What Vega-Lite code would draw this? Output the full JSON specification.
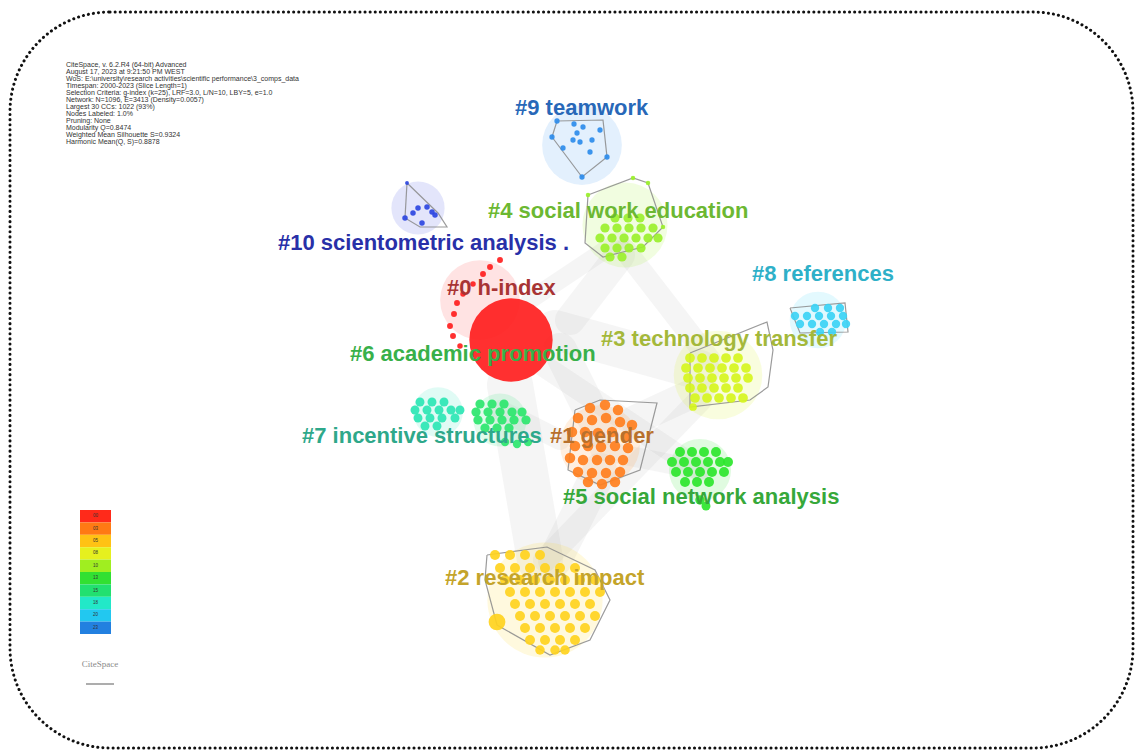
{
  "$schema": "https://vega.github.io/schema/vega-lite/v6.json",
  "width": 1136,
  "height": 751,
  "padding": 0,
  "autosize": {"type": "fit", "contains": "padding"},
  "background": "white",
  "config": {"view": {"stroke": null}},
  "datasets": {
    "frame": [{"x": 10, "x2": 1133, "y": 12, "y2": 748}],
    "links": [
      {"x": 510, "y": 385, "x2": 540, "y2": 560, "w": 46},
      {"x": 600, "y": 470, "x2": 555, "y2": 560, "w": 34},
      {"x": 555, "y": 330, "x2": 700, "y2": 370, "w": 40},
      {"x": 620, "y": 255, "x2": 570, "y2": 320, "w": 30},
      {"x": 635, "y": 420, "x2": 700, "y2": 390, "w": 30},
      {"x": 560, "y": 350, "x2": 600, "y2": 430, "w": 34},
      {"x": 545, "y": 560, "x2": 700, "y2": 400, "w": 24},
      {"x": 520, "y": 350, "x2": 700, "y2": 470, "w": 22},
      {"x": 625, "y": 250, "x2": 710, "y2": 360, "w": 22},
      {"x": 500, "y": 410, "x2": 560, "y2": 440, "w": 20},
      {"x": 530, "y": 300, "x2": 620, "y2": 240, "w": 18},
      {"x": 600, "y": 450, "x2": 700, "y2": 470, "w": 20}
    ],
    "halos": [
      {"c": "9", "x": 582, "y": 145, "w": 6360},
      {"c": "10", "x": 418, "y": 208, "w": 2830},
      {"c": "4", "x": 625, "y": 225, "w": 7240},
      {"c": "8", "x": 818, "y": 320, "w": 3200},
      {"c": "0", "x": 480, "y": 300, "w": 6360},
      {"c": "3", "x": 718, "y": 375, "w": 7850},
      {"c": "7", "x": 438, "y": 412, "w": 2460},
      {"c": "6", "x": 500, "y": 420, "w": 2830},
      {"c": "1", "x": 600, "y": 445, "w": 6360},
      {"c": "5", "x": 700, "y": 470, "w": 3850},
      {"c": "2", "x": 545, "y": 600, "w": 13270}
    ],
    "hulls": [
      {"c": "9", "o": 0, "x": 552, "y": 137}, {"c": "9", "o": 1, "x": 557, "y": 121}, {"c": "9", "o": 2, "x": 603, "y": 120}, {"c": "9", "o": 3, "x": 607, "y": 157}, {"c": "9", "o": 4, "x": 582, "y": 177}, {"c": "9", "o": 5, "x": 552, "y": 137},
      {"c": "10", "o": 0, "x": 407, "y": 183}, {"c": "10", "o": 1, "x": 405, "y": 218}, {"c": "10", "o": 2, "x": 420, "y": 227}, {"c": "10", "o": 3, "x": 447, "y": 227}, {"c": "10", "o": 4, "x": 438, "y": 213}, {"c": "10", "o": 5, "x": 407, "y": 183},
      {"c": "4", "o": 0, "x": 588, "y": 195}, {"c": "4", "o": 1, "x": 633, "y": 178}, {"c": "4", "o": 2, "x": 648, "y": 183}, {"c": "4", "o": 3, "x": 663, "y": 227}, {"c": "4", "o": 4, "x": 643, "y": 247}, {"c": "4", "o": 5, "x": 603, "y": 257}, {"c": "4", "o": 6, "x": 585, "y": 243}, {"c": "4", "o": 7, "x": 588, "y": 195},
      {"c": "3", "o": 0, "x": 690, "y": 353}, {"c": "3", "o": 1, "x": 767, "y": 322}, {"c": "3", "o": 2, "x": 773, "y": 350}, {"c": "3", "o": 3, "x": 768, "y": 387}, {"c": "3", "o": 4, "x": 750, "y": 400}, {"c": "3", "o": 5, "x": 690, "y": 407}, {"c": "3", "o": 6, "x": 690, "y": 353},
      {"c": "1", "o": 0, "x": 575, "y": 410}, {"c": "1", "o": 1, "x": 600, "y": 400}, {"c": "1", "o": 2, "x": 657, "y": 403}, {"c": "1", "o": 3, "x": 640, "y": 470}, {"c": "1", "o": 4, "x": 600, "y": 485}, {"c": "1", "o": 5, "x": 568, "y": 470}, {"c": "1", "o": 6, "x": 575, "y": 410},
      {"c": "2", "o": 0, "x": 487, "y": 555}, {"c": "2", "o": 1, "x": 547, "y": 547}, {"c": "2", "o": 2, "x": 595, "y": 570}, {"c": "2", "o": 3, "x": 610, "y": 600}, {"c": "2", "o": 4, "x": 590, "y": 640}, {"c": "2", "o": 5, "x": 550, "y": 655}, {"c": "2", "o": 6, "x": 497, "y": 625}, {"c": "2", "o": 7, "x": 485, "y": 580}, {"c": "2", "o": 8, "x": 487, "y": 555},
      {"c": "8", "o": 0, "x": 790, "y": 308}, {"c": "8", "o": 1, "x": 845, "y": 303}, {"c": "8", "o": 2, "x": 848, "y": 332}, {"c": "8", "o": 3, "x": 800, "y": 333}, {"c": "8", "o": 4, "x": 790, "y": 308}
    ],
    "nodes": [
      {"c": "0", "x": 511, "y": 340, "w": 6940},
      {"c": "0", "x": 500, "y": 260, "w": 35}, {"c": "0", "x": 490, "y": 267, "w": 35}, {"c": "0", "x": 483, "y": 274, "w": 35}, {"c": "0", "x": 473, "y": 284, "w": 30}, {"c": "0", "x": 463, "y": 294, "w": 30}, {"c": "0", "x": 457, "y": 303, "w": 35}, {"c": "0", "x": 454, "y": 314, "w": 35}, {"c": "0", "x": 450, "y": 326, "w": 35}, {"c": "0", "x": 453, "y": 336, "w": 35}, {"c": "0", "x": 460, "y": 346, "w": 30},
      {"c": "1", "x": 590, "y": 408, "w": 110}, {"c": "1", "x": 605, "y": 405, "w": 110}, {"c": "1", "x": 618, "y": 410, "w": 110}, {"c": "1", "x": 578, "y": 418, "w": 110}, {"c": "1", "x": 592, "y": 420, "w": 110}, {"c": "1", "x": 606, "y": 418, "w": 110}, {"c": "1", "x": 620, "y": 422, "w": 110}, {"c": "1", "x": 632, "y": 425, "w": 110}, {"c": "1", "x": 572, "y": 432, "w": 110}, {"c": "1", "x": 585, "y": 432, "w": 110}, {"c": "1", "x": 598, "y": 433, "w": 110}, {"c": "1", "x": 612, "y": 432, "w": 110}, {"c": "1", "x": 626, "y": 436, "w": 110}, {"c": "1", "x": 575, "y": 446, "w": 110}, {"c": "1", "x": 588, "y": 446, "w": 110}, {"c": "1", "x": 601, "y": 447, "w": 110}, {"c": "1", "x": 615, "y": 446, "w": 110}, {"c": "1", "x": 628, "y": 448, "w": 110}, {"c": "1", "x": 570, "y": 458, "w": 110}, {"c": "1", "x": 583, "y": 460, "w": 110}, {"c": "1", "x": 597, "y": 460, "w": 110}, {"c": "1", "x": 610, "y": 460, "w": 110}, {"c": "1", "x": 623, "y": 460, "w": 110}, {"c": "1", "x": 578, "y": 472, "w": 110}, {"c": "1", "x": 592, "y": 473, "w": 110}, {"c": "1", "x": 606, "y": 473, "w": 110}, {"c": "1", "x": 620, "y": 472, "w": 110}, {"c": "1", "x": 588, "y": 482, "w": 110}, {"c": "1", "x": 602, "y": 484, "w": 110}, {"c": "1", "x": 615, "y": 482, "w": 110},
      {"c": "2", "x": 495, "y": 555, "w": 100}, {"c": "2", "x": 510, "y": 555, "w": 100}, {"c": "2", "x": 525, "y": 555, "w": 100}, {"c": "2", "x": 540, "y": 555, "w": 100},
      {"c": "2", "x": 500, "y": 568, "w": 100}, {"c": "2", "x": 515, "y": 568, "w": 100}, {"c": "2", "x": 530, "y": 568, "w": 100}, {"c": "2", "x": 545, "y": 568, "w": 100}, {"c": "2", "x": 560, "y": 568, "w": 100}, {"c": "2", "x": 575, "y": 568, "w": 100},
      {"c": "2", "x": 505, "y": 580, "w": 100}, {"c": "2", "x": 520, "y": 580, "w": 100}, {"c": "2", "x": 535, "y": 580, "w": 100}, {"c": "2", "x": 550, "y": 580, "w": 100}, {"c": "2", "x": 565, "y": 580, "w": 100}, {"c": "2", "x": 580, "y": 580, "w": 100}, {"c": "2", "x": 595, "y": 580, "w": 100},
      {"c": "2", "x": 510, "y": 592, "w": 100}, {"c": "2", "x": 525, "y": 592, "w": 100}, {"c": "2", "x": 540, "y": 592, "w": 100}, {"c": "2", "x": 555, "y": 592, "w": 100}, {"c": "2", "x": 570, "y": 592, "w": 100}, {"c": "2", "x": 585, "y": 592, "w": 100}, {"c": "2", "x": 600, "y": 592, "w": 100},
      {"c": "2", "x": 515, "y": 604, "w": 100}, {"c": "2", "x": 530, "y": 604, "w": 100}, {"c": "2", "x": 545, "y": 604, "w": 100}, {"c": "2", "x": 560, "y": 604, "w": 100}, {"c": "2", "x": 575, "y": 604, "w": 100}, {"c": "2", "x": 590, "y": 604, "w": 100},
      {"c": "2", "x": 520, "y": 616, "w": 100}, {"c": "2", "x": 535, "y": 616, "w": 100}, {"c": "2", "x": 550, "y": 616, "w": 100}, {"c": "2", "x": 565, "y": 616, "w": 100}, {"c": "2", "x": 580, "y": 616, "w": 100}, {"c": "2", "x": 595, "y": 616, "w": 100},
      {"c": "2", "x": 525, "y": 628, "w": 100}, {"c": "2", "x": 540, "y": 628, "w": 100}, {"c": "2", "x": 555, "y": 628, "w": 100}, {"c": "2", "x": 570, "y": 628, "w": 100}, {"c": "2", "x": 585, "y": 628, "w": 100},
      {"c": "2", "x": 530, "y": 640, "w": 100}, {"c": "2", "x": 545, "y": 640, "w": 100}, {"c": "2", "x": 560, "y": 640, "w": 100}, {"c": "2", "x": 575, "y": 640, "w": 100},
      {"c": "2", "x": 540, "y": 650, "w": 90}, {"c": "2", "x": 555, "y": 650, "w": 90}, {"c": "2", "x": 565, "y": 650, "w": 90}, {"c": "2", "x": 497, "y": 622, "w": 280},
      {"c": "3", "x": 690, "y": 358, "w": 95}, {"c": "3", "x": 702, "y": 358, "w": 95}, {"c": "3", "x": 714, "y": 358, "w": 95}, {"c": "3", "x": 726, "y": 358, "w": 95}, {"c": "3", "x": 738, "y": 358, "w": 95},
      {"c": "3", "x": 686, "y": 368, "w": 95}, {"c": "3", "x": 698, "y": 368, "w": 95}, {"c": "3", "x": 710, "y": 368, "w": 95}, {"c": "3", "x": 722, "y": 368, "w": 95}, {"c": "3", "x": 734, "y": 368, "w": 95}, {"c": "3", "x": 746, "y": 368, "w": 95},
      {"c": "3", "x": 688, "y": 378, "w": 95}, {"c": "3", "x": 700, "y": 378, "w": 95}, {"c": "3", "x": 712, "y": 378, "w": 95}, {"c": "3", "x": 724, "y": 378, "w": 95}, {"c": "3", "x": 736, "y": 378, "w": 95}, {"c": "3", "x": 748, "y": 378, "w": 95},
      {"c": "3", "x": 690, "y": 388, "w": 95}, {"c": "3", "x": 702, "y": 388, "w": 95}, {"c": "3", "x": 714, "y": 388, "w": 95}, {"c": "3", "x": 726, "y": 388, "w": 95}, {"c": "3", "x": 738, "y": 388, "w": 95},
      {"c": "3", "x": 695, "y": 398, "w": 95}, {"c": "3", "x": 707, "y": 398, "w": 95}, {"c": "3", "x": 719, "y": 398, "w": 95}, {"c": "3", "x": 731, "y": 398, "w": 95}, {"c": "3", "x": 743, "y": 398, "w": 95}, {"c": "3", "x": 693, "y": 407, "w": 60},
      {"c": "4", "x": 615, "y": 218, "w": 85}, {"c": "4", "x": 628, "y": 218, "w": 85}, {"c": "4", "x": 640, "y": 218, "w": 85},
      {"c": "4", "x": 605, "y": 228, "w": 85}, {"c": "4", "x": 617, "y": 228, "w": 85}, {"c": "4", "x": 629, "y": 228, "w": 85}, {"c": "4", "x": 641, "y": 228, "w": 85}, {"c": "4", "x": 653, "y": 228, "w": 85},
      {"c": "4", "x": 600, "y": 238, "w": 85}, {"c": "4", "x": 612, "y": 238, "w": 85}, {"c": "4", "x": 624, "y": 238, "w": 85}, {"c": "4", "x": 636, "y": 238, "w": 85}, {"c": "4", "x": 648, "y": 238, "w": 85}, {"c": "4", "x": 658, "y": 238, "w": 85},
      {"c": "4", "x": 605, "y": 248, "w": 85}, {"c": "4", "x": 617, "y": 248, "w": 85}, {"c": "4", "x": 629, "y": 248, "w": 85}, {"c": "4", "x": 641, "y": 248, "w": 85},
      {"c": "4", "x": 610, "y": 257, "w": 85}, {"c": "4", "x": 622, "y": 257, "w": 85},
      {"c": "4", "x": 588, "y": 195, "w": 20}, {"c": "4", "x": 633, "y": 178, "w": 20}, {"c": "4", "x": 648, "y": 183, "w": 20}, {"c": "4", "x": 663, "y": 227, "w": 20},
      {"c": "5", "x": 680, "y": 452, "w": 100}, {"c": "5", "x": 692, "y": 452, "w": 100}, {"c": "5", "x": 704, "y": 452, "w": 100}, {"c": "5", "x": 716, "y": 452, "w": 100},
      {"c": "5", "x": 672, "y": 462, "w": 100}, {"c": "5", "x": 684, "y": 462, "w": 100}, {"c": "5", "x": 696, "y": 462, "w": 100}, {"c": "5", "x": 708, "y": 462, "w": 100}, {"c": "5", "x": 720, "y": 462, "w": 100}, {"c": "5", "x": 728, "y": 462, "w": 100},
      {"c": "5", "x": 676, "y": 472, "w": 100}, {"c": "5", "x": 688, "y": 472, "w": 100}, {"c": "5", "x": 700, "y": 472, "w": 100}, {"c": "5", "x": 712, "y": 472, "w": 100}, {"c": "5", "x": 724, "y": 472, "w": 100},
      {"c": "5", "x": 685, "y": 482, "w": 100}, {"c": "5", "x": 697, "y": 482, "w": 100}, {"c": "5", "x": 709, "y": 482, "w": 100}, {"c": "5", "x": 700, "y": 500, "w": 90}, {"c": "5", "x": 706, "y": 506, "w": 80},
      {"c": "6", "x": 480, "y": 404, "w": 85}, {"c": "6", "x": 492, "y": 404, "w": 85}, {"c": "6", "x": 504, "y": 404, "w": 85},
      {"c": "6", "x": 476, "y": 412, "w": 85}, {"c": "6", "x": 488, "y": 412, "w": 85}, {"c": "6", "x": 500, "y": 412, "w": 85}, {"c": "6", "x": 512, "y": 412, "w": 85}, {"c": "6", "x": 522, "y": 412, "w": 85},
      {"c": "6", "x": 478, "y": 420, "w": 85}, {"c": "6", "x": 490, "y": 420, "w": 85}, {"c": "6", "x": 502, "y": 420, "w": 85}, {"c": "6", "x": 514, "y": 420, "w": 85}, {"c": "6", "x": 526, "y": 420, "w": 85},
      {"c": "6", "x": 485, "y": 428, "w": 85}, {"c": "6", "x": 497, "y": 428, "w": 85}, {"c": "6", "x": 509, "y": 428, "w": 85},
      {"c": "6", "x": 505, "y": 442, "w": 70}, {"c": "6", "x": 517, "y": 444, "w": 70}, {"c": "6", "x": 528, "y": 442, "w": 70},
      {"c": "7", "x": 420, "y": 402, "w": 80}, {"c": "7", "x": 432, "y": 402, "w": 80}, {"c": "7", "x": 444, "y": 402, "w": 80},
      {"c": "7", "x": 415, "y": 410, "w": 80}, {"c": "7", "x": 427, "y": 410, "w": 80}, {"c": "7", "x": 439, "y": 410, "w": 80}, {"c": "7", "x": 451, "y": 410, "w": 80}, {"c": "7", "x": 460, "y": 410, "w": 80},
      {"c": "7", "x": 418, "y": 418, "w": 80}, {"c": "7", "x": 430, "y": 418, "w": 80}, {"c": "7", "x": 442, "y": 418, "w": 80}, {"c": "7", "x": 455, "y": 418, "w": 80},
      {"c": "7", "x": 425, "y": 426, "w": 80}, {"c": "7", "x": 437, "y": 426, "w": 80},
      {"c": "8", "x": 815, "y": 308, "w": 70}, {"c": "8", "x": 828, "y": 308, "w": 70}, {"c": "8", "x": 840, "y": 308, "w": 70},
      {"c": "8", "x": 795, "y": 316, "w": 70}, {"c": "8", "x": 807, "y": 316, "w": 70}, {"c": "8", "x": 819, "y": 316, "w": 70}, {"c": "8", "x": 831, "y": 316, "w": 70}, {"c": "8", "x": 843, "y": 316, "w": 70},
      {"c": "8", "x": 800, "y": 324, "w": 70}, {"c": "8", "x": 812, "y": 324, "w": 70}, {"c": "8", "x": 824, "y": 324, "w": 70}, {"c": "8", "x": 836, "y": 324, "w": 70}, {"c": "8", "x": 846, "y": 324, "w": 70},
      {"c": "8", "x": 820, "y": 332, "w": 70}, {"c": "8", "x": 832, "y": 332, "w": 70},
      {"c": "9", "x": 557, "y": 121, "w": 28}, {"c": "9", "x": 552, "y": 137, "w": 28}, {"c": "9", "x": 574, "y": 124, "w": 28}, {"c": "9", "x": 577, "y": 133, "w": 28}, {"c": "9", "x": 583, "y": 127, "w": 28}, {"c": "9", "x": 573, "y": 140, "w": 28}, {"c": "9", "x": 580, "y": 142, "w": 28}, {"c": "9", "x": 592, "y": 140, "w": 28}, {"c": "9", "x": 600, "y": 130, "w": 28}, {"c": "9", "x": 607, "y": 157, "w": 28}, {"c": "9", "x": 582, "y": 177, "w": 28}, {"c": "9", "x": 563, "y": 148, "w": 28}, {"c": "9", "x": 590, "y": 152, "w": 28},
      {"c": "10", "x": 405, "y": 218, "w": 30}, {"c": "10", "x": 418, "y": 208, "w": 30}, {"c": "10", "x": 427, "y": 207, "w": 30}, {"c": "10", "x": 432, "y": 212, "w": 30}, {"c": "10", "x": 435, "y": 215, "w": 30}, {"c": "10", "x": 422, "y": 223, "w": 30}, {"c": "10", "x": 413, "y": 213, "w": 30}, {"c": "10", "x": 407, "y": 183, "w": 15}
    ],
    "labels": [
      {"c": "9", "x": 515, "y": 108, "t": "#9 teamwork"},
      {"c": "4", "x": 488, "y": 211, "t": "#4 social work education"},
      {"c": "10", "x": 278, "y": 243, "t": "#10 scientometric analysis ."},
      {"c": "8", "x": 752, "y": 274, "t": "#8 references"},
      {"c": "0", "x": 447, "y": 288, "t": "#0 h-index"},
      {"c": "3", "x": 601, "y": 339, "t": "#3 technology transfer"},
      {"c": "6", "x": 350, "y": 354, "t": "#6 academic promotion"},
      {"c": "7", "x": 302, "y": 436, "t": "#7 incentive structures"},
      {"c": "1", "x": 550, "y": 436, "t": "#1 gender"},
      {"c": "5", "x": 563, "y": 497, "t": "#5 social network analysis"},
      {"c": "2", "x": 445, "y": 578, "t": "#2 research impact"}
    ],
    "meta": [
      {"x": 66, "y": 65, "t": "CiteSpace, v. 6.2.R4 (64-bit) Advanced"},
      {"x": 66, "y": 72, "t": "August 17, 2023 at 9:21:50 PM WEST"},
      {"x": 66, "y": 79, "t": "WoS: E:\\university\\research activities\\scientific performance\\3_comps_data"},
      {"x": 66, "y": 86, "t": "Timespan: 2000-2023 (Slice Length=1)"},
      {"x": 66, "y": 93, "t": "Selection Criteria: g-index (k=25), LRF=3.0, L/N=10, LBY=5, e=1.0"},
      {"x": 66, "y": 100, "t": "Network: N=1096, E=3413 (Density=0.0057)"},
      {"x": 66, "y": 107, "t": "Largest 30 CCs: 1022 (93%)"},
      {"x": 66, "y": 114, "t": "Nodes Labeled: 1.0%"},
      {"x": 66, "y": 121, "t": "Pruning: None"},
      {"x": 66, "y": 128, "t": "Modularity Q=0.8474"},
      {"x": 66, "y": 135, "t": "Weighted Mean Silhouette S=0.9324"},
      {"x": 66, "y": 142, "t": "Harmonic Mean(Q, S)=0.8878"}
    ],
    "bands": [
      {"k": "a", "x": 80, "x2": 111, "y": 510, "y2": 522.4, "t": "00"},
      {"k": "b", "x": 80, "x2": 111, "y": 522.4, "y2": 534.8, "t": "03"},
      {"k": "c", "x": 80, "x2": 111, "y": 534.8, "y2": 547.2, "t": "05"},
      {"k": "d", "x": 80, "x2": 111, "y": 547.2, "y2": 559.6, "t": "08"},
      {"k": "e", "x": 80, "x2": 111, "y": 559.6, "y2": 572, "t": "10"},
      {"k": "f", "x": 80, "x2": 111, "y": 572, "y2": 584.4, "t": "13"},
      {"k": "g", "x": 80, "x2": 111, "y": 584.4, "y2": 596.8, "t": "15"},
      {"k": "h", "x": 80, "x2": 111, "y": 596.8, "y2": 609.2, "t": "18"},
      {"k": "i", "x": 80, "x2": 111, "y": 609.2, "y2": 621.6, "t": "20"},
      {"k": "j", "x": 80, "x2": 111, "y": 621.6, "y2": 634, "t": "23"}
    ],
    "logo": [{"x": 100, "y": 664, "t": "CiteSpace"}],
    "logoline": [{"x": 86, "x2": 114, "y": 684}]
  },
  "layer": [
    {
      "data": {"name": "frame"},
      "mark": {"type": "rect", "filled": false, "stroke": "#111", "strokeWidth": 3, "strokeDash": [0.1, 5], "strokeCap": "round", "cornerRadius": 100},
      "encoding": {
        "x": {"field": "x", "type": "quantitative", "scale": {"domain": [0, 1136], "nice": false, "zero": false}, "axis": null},
        "x2": {"field": "x2"},
        "y": {"field": "y", "type": "quantitative", "scale": {"domain": [0, 751], "nice": false, "zero": false, "reverse": true}, "axis": null},
        "y2": {"field": "y2"}
      }
    },
    {
      "data": {"name": "links"},
      "mark": {"type": "rule", "color": "#9a9a9a", "opacity": 0.1, "strokeCap": "round"},
      "encoding": {
        "x": {"field": "x", "type": "quantitative"},
        "y": {"field": "y", "type": "quantitative"},
        "x2": {"field": "x2"},
        "y2": {"field": "y2"},
        "strokeWidth": {"field": "w", "type": "quantitative", "scale": null, "legend": null}
      }
    },
    {
      "data": {"name": "halos"},
      "mark": {"type": "circle", "opacity": 0.16},
      "encoding": {
        "x": {"field": "x", "type": "quantitative"},
        "y": {"field": "y", "type": "quantitative"},
        "size": {"field": "w", "type": "quantitative", "scale": null, "legend": null},
        "color": {"field": "c", "type": "nominal", "legend": null, "scale": {"domain": ["0","1","2","3","4","5","6","7","8","9","10"], "range": ["#ff5050","#ff9a40","#ffd830","#dcf530","#a8f040","#40e640","#40e680","#40e6c0","#50d8f8","#50a0f0","#5060e8"]}}
      }
    },
    {
      "data": {"name": "hulls"},
      "mark": {"type": "line", "color": "#8a8a8a", "strokeWidth": 1.2, "opacity": 0.85},
      "encoding": {
        "x": {"field": "x", "type": "quantitative"},
        "y": {"field": "y", "type": "quantitative"},
        "detail": {"field": "c", "type": "nominal"},
        "order": {"field": "o", "type": "quantitative"}
      }
    },
    {
      "data": {"name": "nodes"},
      "mark": {"type": "circle", "opacity": 0.92},
      "encoding": {
        "x": {"field": "x", "type": "quantitative"},
        "y": {"field": "y", "type": "quantitative"},
        "size": {"field": "w", "type": "quantitative", "scale": null, "legend": null},
        "color": {"field": "c", "type": "nominal", "legend": null, "scale": {"domain": ["0","1","2","3","4","5","6","7","8","9","10"], "range": ["#ff1e1e","#ff7f1e","#ffd21e","#d6f51e","#9bf02d","#2de62d","#2de66e","#2de6b4","#3cd2f5","#2d8ceb","#2d46e1"]}}
      }
    },
    {
      "data": {"name": "labels"},
      "mark": {"type": "text", "align": "left", "baseline": "middle", "font": "Liberation Sans", "fontWeight": "bold", "fontSize": 22},
      "encoding": {
        "x": {"field": "x", "type": "quantitative"},
        "y": {"field": "y", "type": "quantitative"},
        "text": {"field": "t"},
        "color": {"field": "c", "type": "nominal", "legend": null, "scale": {"domain": ["0","1","2","3","4","5","6","7","8","9","10"], "range": ["#a83434","#b8702c","#c4a42a","#a4b83a","#6cb832","#36a83a","#38b04a","#2ea88a","#2eb0c8","#2868b8","#2830a8"]}}
      }
    },
    {
      "data": {"name": "meta"},
      "mark": {"type": "text", "align": "left", "baseline": "middle", "font": "Liberation Sans", "fontSize": 7, "color": "#333"},
      "encoding": {
        "x": {"field": "x", "type": "quantitative"},
        "y": {"field": "y", "type": "quantitative"},
        "text": {"field": "t"}
      }
    },
    {
      "data": {"name": "bands"},
      "mark": {"type": "rect"},
      "encoding": {
        "x": {"field": "x", "type": "quantitative"},
        "x2": {"field": "x2"},
        "y": {"field": "y", "type": "quantitative"},
        "y2": {"field": "y2"},
        "color": {"field": "k", "type": "nominal", "legend": null, "scale": {"domain": ["a","b","c","d","e","f","g","h","i","j"], "range": ["#ff2a1a","#ff7a14","#ffc214","#e6f01e","#a0ee20","#32e032","#22e070","#22e8c8","#22c8f0","#2280e0"]}}
      }
    },
    {
      "data": {"name": "bands"},
      "mark": {"type": "text", "align": "center", "baseline": "middle", "font": "Liberation Sans", "fontSize": 4.5, "color": "#333"},
      "encoding": {
        "x": {"field": "x", "type": "quantitative"},
        "y": {"field": "y", "type": "quantitative"},
        "text": {"field": "t"},
        "xOffset": {"value": 15.5},
        "yOffset": {"value": 6.2}
      }
    },
    {
      "data": {"name": "logo"},
      "mark": {"type": "text", "align": "center", "baseline": "middle", "font": "Liberation Serif", "fontSize": 9, "color": "#8a8a8a"},
      "encoding": {
        "x": {"field": "x", "type": "quantitative"},
        "y": {"field": "y", "type": "quantitative"},
        "text": {"field": "t"}
      }
    },
    {
      "data": {"name": "logoline"},
      "mark": {"type": "rule", "color": "#999", "strokeWidth": 2, "opacity": 0.8},
      "encoding": {
        "x": {"field": "x", "type": "quantitative"},
        "x2": {"field": "x2"},
        "y": {"field": "y", "type": "quantitative"}
      }
    }
  ],
  "resolve": {"scale": {"color": "independent", "size": "independent", "strokeWidth": "independent"}}
}
